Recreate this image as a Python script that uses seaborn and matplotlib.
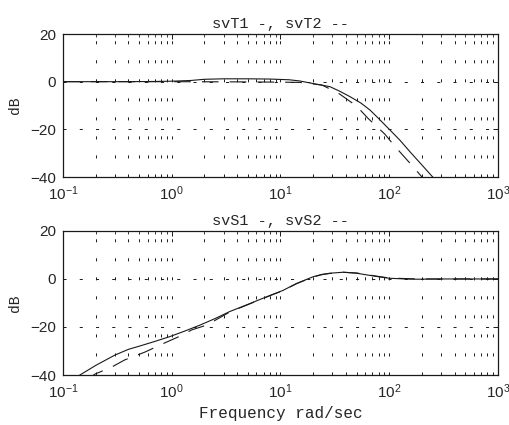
import numpy as np
import pandas as pd
import matplotlib
matplotlib.use("Agg")
import matplotlib.pyplot as plt
import seaborn as sns

# ==============================
# DATA
# ==============================
t1_freq = [0.1, 0.3, 0.6, 1.0, 1.5, 2.0, 3.0, 5.0, 8.0, 12.0, 15.0, 20.0, 28.5, 35.0,
           43.6, 55.0, 66.5, 80.0, 101.6, 125.0, 155.0, 200.0, 251.0, 270.0]
t1_db = [0.0, 0.0, 0.05, 0.2, 0.5, 1.0, 1.2, 1.2, 1.1, 0.8, 0.3, -0.8, -2.1, -4.0,
         -6.3, -9.0, -11.9, -15.5, -20.3, -24.5, -29.4, -35.0, -40.0, -41.5]

t2_freq = [0.1, 0.5, 1.0, 5.0, 10.0, 15.0, 24.0, 34.0, 50.0, 63.5, 91.0, 112.0, 155.0, 200.0, 220.0]
t2_db = [0.0, 0.0, 0.0, -0.1, -0.2, -0.3, -1.4, -4.8, -10.2, -15.3, -22.0, -27.0, -34.2, -40.0, -42.0]

s1_freq = [0.13, 0.143, 0.2, 0.3, 0.4, 0.51, 0.7, 0.96, 1.3, 1.82, 2.5, 3.4, 5.0, 6.5, 8.5,
           10.5, 14.0, 19.9, 24.0, 28.5, 37.6, 50.0, 62.0, 80.0, 100.0, 140.0, 180.0, 300.0, 1000.0]
s1_db = [-41.5, -40.0, -36.0, -31.7, -29.3, -27.9, -26.0, -24.0, -21.8, -19.2, -16.5, -13.6,
         -10.6, -8.5, -6.4, -4.8, -1.9, 0.9, 1.9, 2.4, 2.8, 2.4, 1.7, 0.9, 0.3, 0.0, -0.1, 0.0, 0.0]

s2_freq = [0.17, 0.197, 0.28, 0.37, 0.57, 0.78, 1.14, 1.53, 2.1, 3.4, 6.5, 8.5, 10.5, 14.0,
           19.9, 24.0, 28.5, 37.6, 50.0, 62.0, 100.0, 180.0, 1000.0]
s2_db = [-41.5, -39.6, -36.7, -33.7, -30.4, -27.5, -24.2, -21.2, -19.2, -13.8, -8.6, -6.5,
         -4.9, -2.0, 0.8, 1.8, 2.3, 2.8, 2.5, 1.8, 0.4, 0.0, 0.0]

x_lim = (0.1, 1000)
y_lim = (-40, 20)
y_ticks = [-40, -20, 0, 20]
titles = ["svT1 -, svT2 --", "svS1 -, svS2 --"]

# ==============================
# STYLE
# ==============================
sns.set_theme(style="white")
plt.rcParams['font.family'] = ['Liberation Sans', 'DejaVu Sans']
plt.rcParams['mathtext.default'] = 'regular'
plt.rcParams['lines.scale_dashes'] = False
mono = ['Liberation Mono', 'DejaVu Sans Mono']

fig = plt.figure(figsize=(5.1, 4.25), dpi=100)
ax_top = fig.add_axes([0.1235, 0.5835, 0.853, 0.3365])
ax_bot = fig.add_axes([0.1235, 0.1176, 0.853, 0.339])

series = [
    (ax_top, (t1_freq, t1_db), (t2_freq, t2_db)),
    (ax_bot, (s1_freq, s1_db), (s2_freq, s2_db)),
]

for i, (ax, solid, dashed) in enumerate(series):
    df1 = pd.DataFrame({"f": solid[0], "db": solid[1]})
    df2 = pd.DataFrame({"f": dashed[0], "db": dashed[1]})
    sns.lineplot(data=df1, x="f", y="db", ax=ax, color="k", lw=0.8, linestyle="-")
    sns.lineplot(data=df2, x="f", y="db", ax=ax, color="k", lw=0.8,
                 linestyle=(0, (12, 8)))
    ax.set_xscale("log")
    ax.set_xlim(*x_lim)
    ax.set_ylim(*y_lim)
    ax.set_yticks(y_ticks)
    ax.set_xlabel("")
    ax.set_ylabel("dB", family=mono, fontsize=10.5, labelpad=6)
    ax.set_title(titles[i], family=mono, fontsize=11, pad=4)
    # matlab style dotted grid
    ax.grid(True, which="both", axis="x", color="k", lw=0.7, linestyle=(0, (2.2, 11.5)))
    ax.grid(True, which="major", axis="y", color="k", lw=0.7, linestyle=(0, (2.2, 9.5)))
    ax.set_axisbelow(False)
    ax.tick_params(which="both", direction="in", top=True, right=True, color="k",
                   labelsize=11, pad=5)
    ax.tick_params(which="major", length=3.5, width=0.7)
    ax.tick_params(which="minor", length=2.2, width=0.6)
    ax.tick_params(axis="y", which="minor", left=False, right=False)
    for sp in ax.spines.values():
        sp.set_color("k")
        sp.set_linewidth(0.9)

ax_bot.set_xlabel("Frequency rad/sec", family=mono, fontsize=11.5, labelpad=4)

fig.savefig("out.png", dpi=100)
